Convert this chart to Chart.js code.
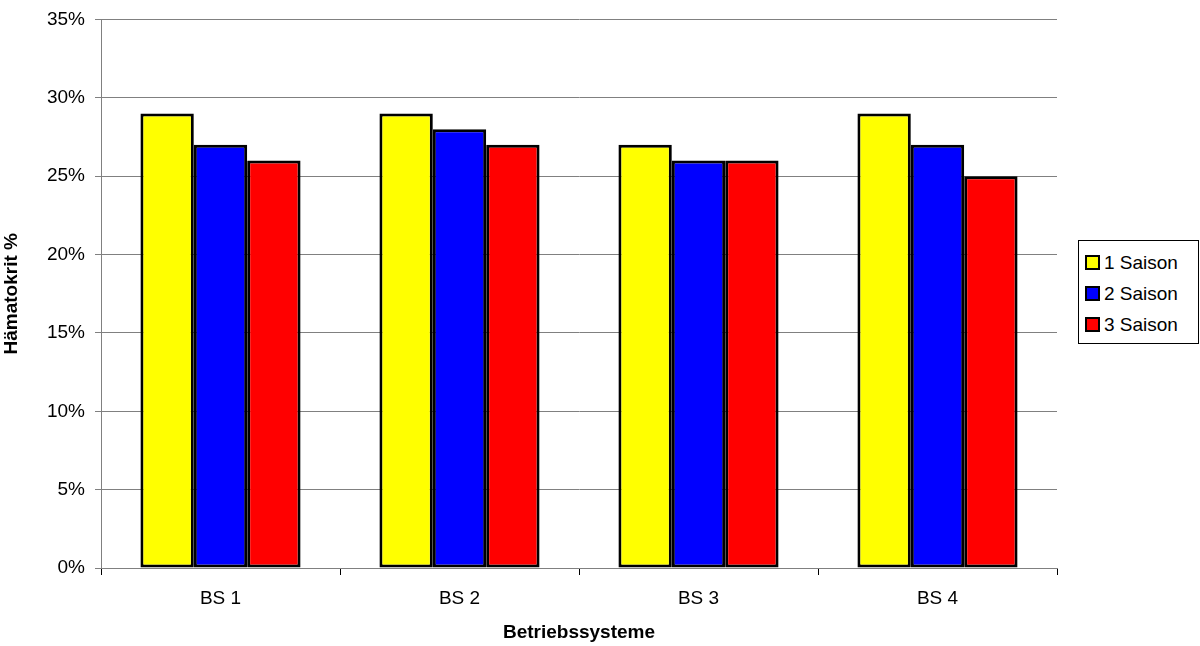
<!DOCTYPE html>
<html>
<head>
<meta charset="utf-8">
<script src="https://cdn.jsdelivr.net/npm/chart.js@4"></script>
<style>
  body { margin: 0; background: #fff; font-family: "Liberation Sans", Arial, sans-serif; }
  #wrap { position: relative; width: 1200px; height: 646px; }
  #legend {
    position: absolute; left: 1078px; top: 240px; width: 121px; height: 104px;
    border: 1px solid #000; background: #fff; box-sizing: border-box;
    padding-top: 6px; padding-left: 6px;
  }
  .item { height: 31px; display: flex; align-items: center; font-size: 19px; color: #000; }
  .box { width: 11px; height: 11px; border: 2px solid #000; margin-right: 4px; }
</style>
</head>
<body>
<div id="wrap">
  <canvas id="chart" width="1200" height="646"></canvas>
  <div id="legend"></div>
</div>
<script>
// Categories and series values (percent)
const categories = ["BS 1", "BS 2", "BS 3", "BS 4"];
const seriesNames = ["1 Saison", "2 Saison", "3 Saison"];
const saison1 = [29, 29, 27, 29];
const saison2 = [27, 28, 26, 27];
const saison3 = [26, 27, 26, 25];
const colors = ["#ffff00", "#0000ff", "#ff0000"];

const font = "'Liberation Sans', Arial, sans-serif";

// Build the HTML legend
const legendEl = document.getElementById("legend");
seriesNames.forEach((name, i) => {
    const row = document.createElement("div");
    row.className = "item";
    row.innerHTML = '<span class="box" style="background:' + colors[i] + '"></span>' + name;
    legendEl.appendChild(row);
});

const ctx = document.getElementById("chart").getContext("2d");
new Chart(ctx, {
    type: "bar",
    data: {
        labels: categories,
        datasets: [saison1, saison2, saison3].map((values, i) => ({
            label: seriesNames[i],
            data: values,
            backgroundColor: colors[i],
            borderColor: "#000",
            borderWidth: 3,
            borderSkipped: false,
            categoryPercentage: 0.67,
            barPercentage: 1.0,
        })),
    },
    options: {
        responsive: false,
        animation: false,
        layout: { padding: { top: 18, right: 143, bottom: 0, left: 0 } },
        plugins: {
            legend: { display: false },
            tooltip: { enabled: false },
        },
        scales: {
            x: {
                grid: {
                    offset: true,
                    drawOnChartArea: false,
                    drawTicks: true,
                    tickLength: 7,
                    color: "#000",
                },
                border: { color: "#808080", width: 1 },
                ticks: { color: "#000", font: { family: font, size: 19 }, padding: 12 },
                title: {
                    display: true,
                    text: "Betriebssysteme",
                    color: "#000",
                    font: { family: font, size: 19, weight: "bold" },
                    padding: { top: 4, bottom: 2 },
                },
                afterFit: (scale) => { scale.height = 78; },
            },
            y: {
                min: 0,
                max: 35,
                ticks: {
                    stepSize: 5,
                    color: "#000",
                    font: { family: font, size: 19, lineHeight: 1 },
                    padding: 10,
                    callback: (v) => v + "%",
                },
                grid: { color: "#808080", tickLength: 6, drawTicks: true },
                border: { color: "#808080", width: 1 },
                title: {
                    display: true,
                    text: "Hämatokrit %",
                    color: "#000",
                    font: { family: font, size: 19, weight: "bold" },
                    padding: { top: 0, bottom: 2 },
                },
                afterFit: (scale) => { scale.width = 101; },
            },
        },
    },
});
</script>
</body>
</html>
